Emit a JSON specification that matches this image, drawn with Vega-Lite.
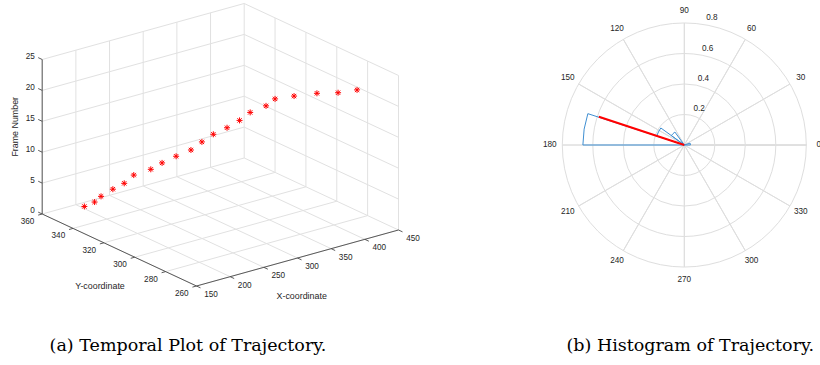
{
  "$schema": "https://vega.github.io/schema/vega-lite/v6.json",
  "padding": 0,
  "background": "white",
  "bounds": "flush",
  "spacing": 120,
  "config": {"view": {"stroke": null}, "font": "Liberation Sans"},
  "datasets": {
    "traj": [
      {"X": 192, "Y": 351, "Frame": 1}, {"X": 198, "Y": 347, "Frame": 2}, {"X": 203, "Y": 345, "Frame": 3},
      {"X": 216, "Y": 343, "Frame": 4}, {"X": 226, "Y": 340, "Frame": 5}, {"X": 239, "Y": 339.5, "Frame": 6},
      {"X": 254, "Y": 335, "Frame": 7}, {"X": 265, "Y": 332.5, "Frame": 8}, {"X": 279, "Y": 329.5, "Frame": 9},
      {"X": 293, "Y": 326, "Frame": 10}, {"X": 307, "Y": 325, "Frame": 11}, {"X": 320.5, "Y": 323.5, "Frame": 12},
      {"X": 334, "Y": 320.5, "Frame": 13}, {"X": 348, "Y": 318.5, "Frame": 14}, {"X": 361.5, "Y": 317.5, "Frame": 15},
      {"X": 377, "Y": 314, "Frame": 16}, {"X": 387, "Y": 312.5, "Frame": 17}, {"X": 398, "Y": 305, "Frame": 18},
      {"X": 412.5, "Y": 296.5, "Frame": 19}, {"X": 421, "Y": 286.5, "Frame": 20}, {"X": 432, "Y": 279, "Frame": 21}
    ],
    "box": [
      {"k": "g", "x1": 150, "y1": 260, "z1": 0, "x2": 150, "y2": 360, "z2": 0},
      {"k": "g", "x1": 200, "y1": 260, "z1": 0, "x2": 200, "y2": 360, "z2": 0},
      {"k": "g", "x1": 250, "y1": 260, "z1": 0, "x2": 250, "y2": 360, "z2": 0},
      {"k": "g", "x1": 300, "y1": 260, "z1": 0, "x2": 300, "y2": 360, "z2": 0},
      {"k": "g", "x1": 350, "y1": 260, "z1": 0, "x2": 350, "y2": 360, "z2": 0},
      {"k": "g", "x1": 400, "y1": 260, "z1": 0, "x2": 400, "y2": 360, "z2": 0},
      {"k": "g", "x1": 450, "y1": 260, "z1": 0, "x2": 450, "y2": 360, "z2": 0},
      {"k": "g", "x1": 150, "y1": 260, "z1": 0, "x2": 450, "y2": 260, "z2": 0},
      {"k": "g", "x1": 150, "y1": 280, "z1": 0, "x2": 450, "y2": 280, "z2": 0},
      {"k": "g", "x1": 150, "y1": 300, "z1": 0, "x2": 450, "y2": 300, "z2": 0},
      {"k": "g", "x1": 150, "y1": 320, "z1": 0, "x2": 450, "y2": 320, "z2": 0},
      {"k": "g", "x1": 150, "y1": 340, "z1": 0, "x2": 450, "y2": 340, "z2": 0},
      {"k": "g", "x1": 150, "y1": 360, "z1": 0, "x2": 450, "y2": 360, "z2": 0},
      {"k": "g", "x1": 150, "y1": 360, "z1": 0, "x2": 150, "y2": 360, "z2": 25},
      {"k": "g", "x1": 200, "y1": 360, "z1": 0, "x2": 200, "y2": 360, "z2": 25},
      {"k": "g", "x1": 250, "y1": 360, "z1": 0, "x2": 250, "y2": 360, "z2": 25},
      {"k": "g", "x1": 300, "y1": 360, "z1": 0, "x2": 300, "y2": 360, "z2": 25},
      {"k": "g", "x1": 350, "y1": 360, "z1": 0, "x2": 350, "y2": 360, "z2": 25},
      {"k": "g", "x1": 400, "y1": 360, "z1": 0, "x2": 400, "y2": 360, "z2": 25},
      {"k": "g", "x1": 450, "y1": 360, "z1": 0, "x2": 450, "y2": 360, "z2": 25},
      {"k": "g", "x1": 150, "y1": 360, "z1": 5, "x2": 450, "y2": 360, "z2": 5},
      {"k": "g", "x1": 150, "y1": 360, "z1": 10, "x2": 450, "y2": 360, "z2": 10},
      {"k": "g", "x1": 150, "y1": 360, "z1": 15, "x2": 450, "y2": 360, "z2": 15},
      {"k": "g", "x1": 150, "y1": 360, "z1": 20, "x2": 450, "y2": 360, "z2": 20},
      {"k": "g", "x1": 150, "y1": 360, "z1": 25, "x2": 450, "y2": 360, "z2": 25},
      {"k": "g", "x1": 450, "y1": 260, "z1": 0, "x2": 450, "y2": 260, "z2": 25},
      {"k": "g", "x1": 450, "y1": 280, "z1": 0, "x2": 450, "y2": 280, "z2": 25},
      {"k": "g", "x1": 450, "y1": 300, "z1": 0, "x2": 450, "y2": 300, "z2": 25},
      {"k": "g", "x1": 450, "y1": 320, "z1": 0, "x2": 450, "y2": 320, "z2": 25},
      {"k": "g", "x1": 450, "y1": 340, "z1": 0, "x2": 450, "y2": 340, "z2": 25},
      {"k": "g", "x1": 450, "y1": 260, "z1": 5, "x2": 450, "y2": 360, "z2": 5},
      {"k": "g", "x1": 450, "y1": 260, "z1": 10, "x2": 450, "y2": 360, "z2": 10},
      {"k": "g", "x1": 450, "y1": 260, "z1": 15, "x2": 450, "y2": 360, "z2": 15},
      {"k": "g", "x1": 450, "y1": 260, "z1": 20, "x2": 450, "y2": 360, "z2": 20},
      {"k": "g", "x1": 450, "y1": 260, "z1": 25, "x2": 450, "y2": 360, "z2": 25},
      {"k": "a", "x1": 150, "y1": 360, "z1": 0, "x2": 150, "y2": 360, "z2": 25},
      {"k": "a", "x1": 150, "y1": 260, "z1": 0, "x2": 150, "y2": 360, "z2": 0},
      {"k": "a", "x1": 150, "y1": 260, "z1": 0, "x2": 450, "y2": 260, "z2": 0},
      {"k": "a", "x1": 150, "y1": 360, "z1": 0, "x2": 150, "y2": 362.6, "z2": 0},
      {"k": "a", "x1": 150, "y1": 360, "z1": 5, "x2": 150, "y2": 362.6, "z2": 5},
      {"k": "a", "x1": 150, "y1": 360, "z1": 10, "x2": 150, "y2": 362.6, "z2": 10},
      {"k": "a", "x1": 150, "y1": 360, "z1": 15, "x2": 150, "y2": 362.6, "z2": 15},
      {"k": "a", "x1": 150, "y1": 360, "z1": 20, "x2": 150, "y2": 362.6, "z2": 20},
      {"k": "a", "x1": 150, "y1": 360, "z1": 25, "x2": 150, "y2": 362.6, "z2": 25},
      {"k": "a", "x1": 150, "y1": 260, "z1": 0, "x2": 144, "y2": 260, "z2": 0},
      {"k": "a", "x1": 150, "y1": 280, "z1": 0, "x2": 144, "y2": 280, "z2": 0},
      {"k": "a", "x1": 150, "y1": 300, "z1": 0, "x2": 144, "y2": 300, "z2": 0},
      {"k": "a", "x1": 150, "y1": 320, "z1": 0, "x2": 144, "y2": 320, "z2": 0},
      {"k": "a", "x1": 150, "y1": 340, "z1": 0, "x2": 144, "y2": 340, "z2": 0},
      {"k": "a", "x1": 150, "y1": 360, "z1": 0, "x2": 144, "y2": 360, "z2": 0},
      {"k": "a", "x1": 150, "y1": 260, "z1": 0, "x2": 150, "y2": 257.4, "z2": 0},
      {"k": "a", "x1": 200, "y1": 260, "z1": 0, "x2": 200, "y2": 257.4, "z2": 0},
      {"k": "a", "x1": 250, "y1": 260, "z1": 0, "x2": 250, "y2": 257.4, "z2": 0},
      {"k": "a", "x1": 300, "y1": 260, "z1": 0, "x2": 300, "y2": 257.4, "z2": 0},
      {"k": "a", "x1": 350, "y1": 260, "z1": 0, "x2": 350, "y2": 257.4, "z2": 0},
      {"k": "a", "x1": 400, "y1": 260, "z1": 0, "x2": 400, "y2": 257.4, "z2": 0},
      {"k": "a", "x1": 450, "y1": 260, "z1": 0, "x2": 450, "y2": 257.4, "z2": 0}
    ],
    "ticks": [
      {"ax": "Z", "v": 0}, {"ax": "Z", "v": 5}, {"ax": "Z", "v": 10}, {"ax": "Z", "v": 15}, {"ax": "Z", "v": 20}, {"ax": "Z", "v": 25},
      {"ax": "Y", "v": 260}, {"ax": "Y", "v": 280}, {"ax": "Y", "v": 300}, {"ax": "Y", "v": 320}, {"ax": "Y", "v": 340}, {"ax": "Y", "v": 360},
      {"ax": "X", "v": 150}, {"ax": "X", "v": 200}, {"ax": "X", "v": 250}, {"ax": "X", "v": 300}, {"ax": "X", "v": 350}, {"ax": "X", "v": 400}, {"ax": "X", "v": 450}
    ],
    "titles3d": [
      {"ax": "X", "label": "X-coordinate", "x": 300, "y": 260, "z": 0},
      {"ax": "Y", "label": "Y-coordinate", "x": 150, "y": 310, "z": 0},
      {"ax": "Z", "label": "Frame Number", "x": 150, "y": 360, "z": 12.5}
    ],
    "rings": [{"r": 0.2}, {"r": 0.4}, {"r": 0.6}, {"r": 0.8}],
    "spokes": [
      {"a": 0}, {"a": 30}, {"a": 60}, {"a": 90}, {"a": 120}, {"a": 150},
      {"a": 180}, {"a": 210}, {"a": 240}, {"a": 270}, {"a": 300}, {"a": 330}
    ],
    "bins": [
      {"lo": 0, "hi": 18, "p": 0.04},
      {"lo": 126, "hi": 144, "p": 0.105},
      {"lo": 144, "hi": 162, "p": 0.19},
      {"lo": 162, "hi": 180, "p": 0.665}
    ],
    "meanDir": [{"a": 161.7, "r": 0.59}]
  },
  "hconcat": [
    {
      "width": 420,
      "height": 320,
      "title": {"text": "(a) Temporal Plot of Trajectory.", "orient": "bottom", "anchor": "middle", "offset": 17, "dx": -22, "font": "DejaVu Serif", "fontSize": 17.5, "fontWeight": "normal", "color": "black"},
      "encoding": {
        "x": {"field": "px", "type": "quantitative", "scale": {"domain": [0, 420], "nice": false, "zero": false}, "axis": null},
        "y": {"field": "py", "type": "quantitative", "scale": {"domain": [0, 320], "nice": false, "zero": false, "reverse": true}, "axis": null}
      },
      "layer": [
        {
          "data": {"name": "box"},
          "transform": [
            {"filter": "datum.k == 'g'"},
            {"calculate": "42.2 + 0.67333*(datum.x1-150) + 1.543*(360-datum.y1)", "as": "px"},
            {"calculate": "214 - 0.18667*(datum.x1-150) + 0.72*(360-datum.y1) - 6.18*datum.z1", "as": "py"},
            {"calculate": "42.2 + 0.67333*(datum.x2-150) + 1.543*(360-datum.y2)", "as": "px2"},
            {"calculate": "214 - 0.18667*(datum.x2-150) + 0.72*(360-datum.y2) - 6.18*datum.z2", "as": "py2"}
          ],
          "mark": {"type": "rule", "color": "#e1e1e1", "strokeWidth": 1},
          "encoding": {"x2": {"field": "px2"}, "y2": {"field": "py2"}}
        },
        {
          "data": {"name": "box"},
          "transform": [
            {"filter": "datum.k == 'a'"},
            {"calculate": "42.2 + 0.67333*(datum.x1-150) + 1.543*(360-datum.y1)", "as": "px"},
            {"calculate": "214 - 0.18667*(datum.x1-150) + 0.72*(360-datum.y1) - 6.18*datum.z1", "as": "py"},
            {"calculate": "42.2 + 0.67333*(datum.x2-150) + 1.543*(360-datum.y2)", "as": "px2"},
            {"calculate": "214 - 0.18667*(datum.x2-150) + 0.72*(360-datum.y2) - 6.18*datum.z2", "as": "py2"}
          ],
          "mark": {"type": "rule", "color": "#4a4a4a", "strokeWidth": 0.9},
          "encoding": {"x2": {"field": "px2"}, "y2": {"field": "py2"}}
        },
        {
          "data": {"name": "traj"},
          "transform": [
            {"calculate": "42.2 + 0.67333*(datum.X-150) + 1.543*(360-datum.Y)", "as": "px"},
            {"calculate": "214 - 0.18667*(datum.X-150) + 0.72*(360-datum.Y) - 6.18*datum.Frame", "as": "py"}
          ],
          "mark": {"type": "point", "shape": "M-1,0L1,0M0,-1L0,1M-0.72,-0.72L0.72,0.72M-0.72,0.72L0.72,-0.72", "filled": false, "color": "#ff0000", "strokeWidth": 1, "size": 36, "opacity": 1}
        },
        {
          "data": {"name": "ticks"},
          "transform": [
            {"filter": "datum.ax == 'Z'"},
            {"calculate": "42.2", "as": "px"},
            {"calculate": "214 - 6.18*datum.v", "as": "py"}
          ],
          "mark": {"type": "text", "align": "right", "baseline": "middle", "dx": -7.3, "dy": -2.6, "fontSize": 8.2, "color": "#262626"},
          "encoding": {"text": {"field": "v"}}
        },
        {
          "data": {"name": "ticks"},
          "transform": [
            {"filter": "datum.ax == 'Y'"},
            {"calculate": "42.2 + 1.543*(360-datum.v)", "as": "px"},
            {"calculate": "214 + 0.72*(360-datum.v)", "as": "py"}
          ],
          "mark": {"type": "text", "align": "center", "baseline": "middle", "dx": -14.7, "dy": 8, "fontSize": 8.2, "color": "#262626"},
          "encoding": {"text": {"field": "v"}}
        },
        {
          "data": {"name": "ticks"},
          "transform": [
            {"filter": "datum.ax == 'X'"},
            {"calculate": "42.2 + 0.67333*(datum.v-150) + 154.3", "as": "px"},
            {"calculate": "214 - 0.18667*(datum.v-150) + 72", "as": "py"}
          ],
          "mark": {"type": "text", "align": "center", "baseline": "middle", "dx": 14.5, "dy": 9, "fontSize": 8.2, "color": "#262626"},
          "encoding": {"text": {"field": "v"}}
        },
        {
          "data": {"name": "titles3d"},
          "transform": [
            {"filter": "datum.ax == 'X'"},
            {"calculate": "42.2 + 0.67333*(datum.x-150) + 1.543*(360-datum.y)", "as": "px"},
            {"calculate": "214 - 0.18667*(datum.x-150) + 0.72*(360-datum.y) - 6.18*datum.z", "as": "py"}
          ],
          "mark": {"type": "text", "align": "center", "baseline": "middle", "dx": 4.2, "dy": 38, "fontSize": 8.9, "color": "#262626"},
          "encoding": {"text": {"field": "label"}}
        },
        {
          "data": {"name": "titles3d"},
          "transform": [
            {"filter": "datum.ax == 'Y'"},
            {"calculate": "42.2 + 0.67333*(datum.x-150) + 1.543*(360-datum.y)", "as": "px"},
            {"calculate": "214 - 0.18667*(datum.x-150) + 0.72*(360-datum.y) - 6.18*datum.z", "as": "py"}
          ],
          "mark": {"type": "text", "align": "center", "baseline": "middle", "dx": -19.3, "dy": 36, "fontSize": 8.9, "color": "#262626"},
          "encoding": {"text": {"field": "label"}}
        },
        {
          "data": {"name": "titles3d"},
          "transform": [
            {"filter": "datum.ax == 'Z'"},
            {"calculate": "42.2 + 0.67333*(datum.x-150) + 1.543*(360-datum.y)", "as": "px"},
            {"calculate": "214 - 0.18667*(datum.x-150) + 0.72*(360-datum.y) - 6.18*datum.z", "as": "py"}
          ],
          "mark": {"type": "text", "align": "center", "baseline": "middle", "angle": 270, "dx": 10, "dy": -27.2, "fontSize": 8.9, "color": "#262626"},
          "encoding": {"text": {"field": "label"}}
        }
      ]
    },
    {
      "width": 288.6,
      "height": 290,
      "title": {"text": "(b) Histogram of Trajectory.", "orient": "bottom", "anchor": "middle", "offset": 47, "dx": 6, "font": "DejaVu Serif", "fontSize": 17.5, "fontWeight": "normal", "color": "black"},
      "layer": [
        {
          "data": {"name": "rings"},
          "mark": {"type": "arc", "filled": false, "color": "#dedede", "strokeWidth": 1},
          "encoding": {
            "theta": {"datum": 0, "type": "quantitative", "stack": null, "scale": {"type": "linear", "domain": [0, 360], "range": [1.5707963, -4.712389], "zero": false, "nice": false}},
            "theta2": {"datum": 360},
            "radius": {"field": "r", "type": "quantitative", "stack": null, "scale": {"type": "linear", "domain": [0, 0.8], "range": [0, 122], "zero": true, "nice": false}}
          }
        },
        {
          "data": {"name": "spokes"},
          "mark": {"type": "arc", "filled": false, "color": "#dedede", "strokeWidth": 1},
          "encoding": {
            "theta": {"field": "a", "type": "quantitative", "stack": null},
            "theta2": {"field": "a"},
            "radius": {"datum": 0.8, "type": "quantitative", "stack": null}
          }
        },
        {
          "data": {"name": "bins"},
          "mark": {"type": "arc", "filled": false, "color": "#3f8fd2", "strokeWidth": 1},
          "encoding": {
            "theta": {"field": "lo", "type": "quantitative", "stack": null},
            "theta2": {"field": "hi"},
            "radius": {"field": "p", "type": "quantitative", "stack": null}
          }
        },
        {
          "data": {"name": "meanDir"},
          "mark": {"type": "arc", "filled": false, "color": "#ff0000", "strokeWidth": 2},
          "encoding": {
            "theta": {"field": "a", "type": "quantitative", "stack": null},
            "theta2": {"field": "a"},
            "radius": {"field": "r", "type": "quantitative", "stack": null}
          }
        },
        {
          "data": {"name": "spokes"},
          "mark": {"type": "text", "align": "center", "baseline": "middle", "radiusOffset": 12.5, "fontSize": 8.2, "color": "#262626"},
          "encoding": {
            "theta": {"field": "a", "type": "quantitative", "stack": null},
            "radius": {"datum": 0.8, "type": "quantitative", "stack": null},
            "text": {"field": "a"}
          }
        },
        {
          "data": {"name": "rings"},
          "mark": {"type": "text", "align": "left", "baseline": "middle", "dx": 5, "dy": -5.8, "fontSize": 8.2, "color": "#262626"},
          "encoding": {
            "theta": {"datum": 82, "type": "quantitative", "stack": null},
            "radius": {"field": "r", "type": "quantitative", "stack": null},
            "text": {"field": "r", "format": ".1f"}
          }
        }
      ]
    }
  ]
}
